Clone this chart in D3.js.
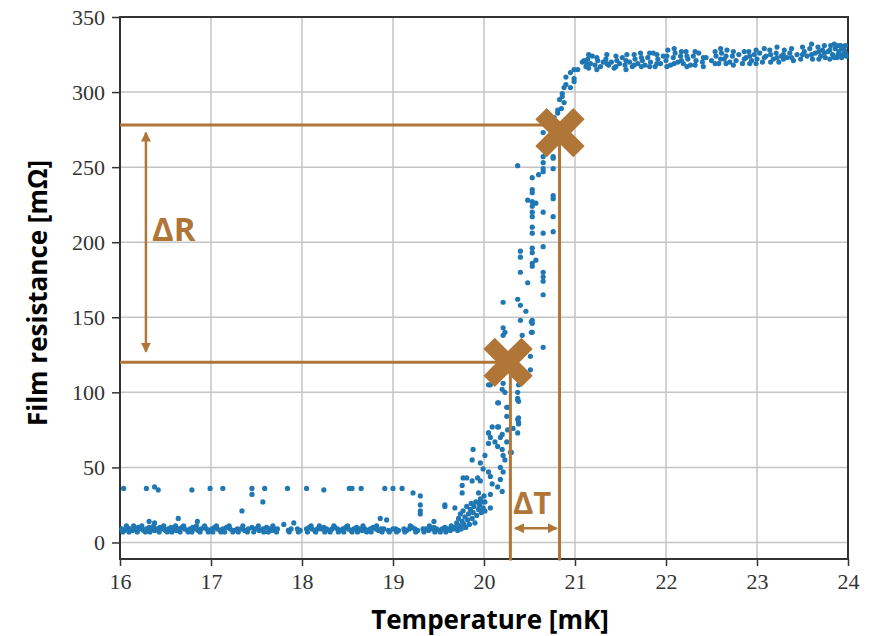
<!DOCTYPE html>
<html>
<head>
<meta charset="utf-8">
<script src="https://cdn.jsdelivr.net/npm/d3@7"></script>
<style>
  body { margin: 0; background: #fff; }
  .tick text { font-family: "Liberation Serif", serif; font-size: 22px; fill: #333; }
  .title { font-family: "Open Sans", sans-serif; font-weight: bold; font-size: 26px; fill: #000; }
  .note { font-family: "Open Sans", sans-serif; font-weight: bold; fill: #af7638; }
</style>
</head>
<body>
<div id="chart"></div>
<script>
// tick values
const xTicks = [16, 17, 18, 19, 20, 21, 22, 23, 24]
const yTicks = [0, 50, 100, 150, 200, 250, 300, 350]

// measured points [temperature mK, resistance mOhm]
const baseline = [
  [16.02,9],[16.05,8],[16.08,10],[16.11,9],[16.14,8],[16.17,9],[16.20,10],[16.23,9],[16.26,8],[16.29,9],
  [16.32,10],[16.35,9],[16.38,8],[16.41,9],[16.44,10],[16.47,9],[16.50,8],[16.53,9],[16.56,10],[16.59,9],
  [16.62,8],[16.65,9],[16.68,10],[16.71,9],[16.74,8],[16.77,9],[16.80,10],[16.83,9],[16.86,8],[16.89,9],
  [16.92,10],[16.95,9],[16.98,8],[17.01,9],[17.04,10],[17.07,9],[17.10,8],[17.13,9],[17.17,10],[17.21,9],
  [17.25,8],[17.29,9],[17.33,9],[17.37,8],[17.41,9],[17.45,10],[17.49,9],[17.53,8],[17.57,9],[17.61,10],
  [17.64,9],[17.67,8],[17.70,9],[17.73,9],[17.85,8],[17.88,9],[17.95,9],[17.98,8],[18.05,9],[18.08,10],
  [18.11,9],[18.14,8],[18.17,9],[18.21,9],[18.24,10],[18.27,9],[18.30,8],[18.33,9],[18.36,10],[18.39,9],
  [18.42,8],[18.45,9],[18.48,10],[18.51,9],[18.54,8],[18.57,9],[18.60,10],[18.63,9],[18.66,8],[18.69,9],
  [18.72,8],[18.75,9],[18.78,10],[18.81,9],[18.84,8],[18.87,9],[18.90,9],[18.95,8],[19.00,9],[19.03,9],
  [19.06,8],[19.12,9],[19.15,8],[19.18,9],[19.21,10],[19.24,9],[19.27,8],[19.33,9],[19.36,9],[19.39,8],
  [19.42,9],[19.45,10],[19.48,9],[19.51,8],[19.54,9],[19.57,10],[19.60,9],[19.63,8],[19.66,9]
]
const baselineLow = [
  [16.03,7],[16.07,11],[16.10,7],[16.15,11],[16.19,7],[16.24,11],[16.28,7],[16.33,7],[16.37,11],[16.43,7],
  [16.48,11],[16.52,7],[16.57,7],[16.61,11],[16.66,7],[16.70,11],[16.75,7],[16.79,7],[16.84,11],[16.88,7],
  [16.93,11],[16.97,7],[17.02,7],[17.06,11],[17.11,7],[17.15,7],[17.20,11],[17.24,7],[17.30,7],[17.35,11],
  [17.40,7],[17.47,7],[17.52,11],[17.58,7],[17.63,7],[17.68,11],[17.72,7],[17.86,7],[17.96,7],[18.06,7],
  [18.10,11],[18.15,7],[18.19,11],[18.25,7],[18.31,7],[18.35,11],[18.40,7],[18.46,7],[18.50,11],[18.55,7],
  [18.61,7],[18.67,11],[18.71,7],[18.76,7],[18.82,11],[18.88,7],[18.96,7],[19.04,7],[19.13,7],[19.19,11],
  [19.25,7],[19.34,7],[19.40,11],[19.46,7],[19.52,7],[19.58,7],[19.64,11]
]
const outliers = [
  [16.04,36],[16.29,36],[16.38,37],[16.42,35],[16.79,35],[16.99,36],[17.13,36],[17.45,36],[17.45,32],
  [17.59,36],[17.57,27],[17.84,36],[18.05,36],[18.24,35],[18.52,36],[18.55,36],[18.65,36],[18.91,36],
  [19.00,36],[19.10,36],[19.22,33],[19.30,31],[19.30,25],[19.30,21],[19.30,19],[19.45,14],[19.57,24],
  [16.32,14],[16.38,13],[16.64,16],[16.85,14],[17.34,21],[17.80,12],[17.91,13],[18.86,16],[18.93,15]
]
const transition = [
  [19.68,10],[19.70,13],[19.71,8],[19.72,16],[19.73,11],[19.74,19],[19.75,9],[19.76,14],[19.77,21],[19.78,12],
  [19.79,17],[19.80,10],[19.81,24],[19.82,15],[19.83,19],[19.84,12],[19.85,22],[19.86,26],[19.87,16],[19.88,20],
  [19.89,24],[19.90,13],[19.91,27],[19.92,18],[19.94,22],[19.95,25],[19.96,29],[19.97,20],[19.98,27],[19.99,23],
  [20.00,31],[19.57,25],[19.68,23],[19.76,33],[19.76,38],[19.77,43],[19.81,43],[19.87,41],[19.93,43],[19.96,41],
  [19.88,62],[19.87,55],[19.96,53],[19.99,49],[20.01,58],[20.05,73],[20.07,70],[20.05,66],[20.09,77],[20.12,67],
  [20.15,77],[20.18,70],[20.15,64],[20.20,62],[20.21,58],[20.23,55],[20.18,50],[20.07,44],[20.09,39],[20.07,32],
  [20.07,23],[20.05,47],[20.25,84],[20.26,75],[20.25,67],[20.29,60],[20.30,60],[20.37,82],[20.38,79],[20.37,73],
  [20.37,95],[20.25,90],[20.15,93],[20.18,42],[20.15,37],[20.20,34],[20.21,47],[19.94,33],[19.96,27],[20.01,27],
  [20.01,21],[20.05,105],[20.20,102],[20.21,106],[20.37,100],[20.37,96],[20.38,105],[20.51,124],[20.51,115],
  [20.65,130],[20.23,140],[20.21,160],[20.37,162],[20.40,158],[20.46,154],[20.53,148],[20.53,146],[20.40,148],
  [20.21,143],[20.21,138],[20.42,138],[20.53,140],[20.40,194],[20.40,190],[20.53,196],[20.53,193],[20.57,188],
  [20.53,186],[20.53,184],[20.40,180],[20.65,180],[20.65,177],[20.65,174],[20.48,173],[20.65,165],[20.53,210],
  [20.53,206],[20.65,206],[20.76,207],[20.65,197],[20.53,235],[20.53,233],[20.48,228],[20.53,227],[20.57,226],
  [20.53,224],[20.53,220],[20.53,217],[20.65,220],[20.76,231],[20.76,229],[20.76,217],[20.37,251],[20.53,243],
  [20.60,245],[20.65,247],[20.65,249],[20.76,249],[20.76,257],[20.65,257],[20.65,253],[20.76,256],[20.65,273],
  [20.65,266],[20.72,263],[20.81,288],[20.81,286],[20.83,295],[20.86,299],[20.88,303],[20.90,305],[20.95,313],
  [20.99,315],[21.03,315],[20.90,310],[20.99,309],[20.99,307],[20.95,303],[20.86,297],[20.88,293],[20.85,289],
  [20.77,283],[21.10,321],[21.13,319],[20.07,105],[20.23,100],[20.16,93],[20.26,90],[20.38,94],[20.38,83],
  [20.38,80],[20.05,73],[20.16,77],[20.20,72],[20.32,76],[20.52,147],[20.52,140]
]
const plateau = [
  [21.08,320],[21.12,317],[21.14,322],[21.17,319],[21.19,324],[21.22,318],[21.25,321],[21.28,317],[21.31,320],
  [21.34,322],[21.37,318],[21.40,320],[21.43,316],[21.46,321],[21.49,319],[21.52,323],[21.55,318],[21.57,325],
  [21.60,320],[21.63,317],[21.66,322],[21.69,319],[21.72,326],[21.74,321],[21.77,318],[21.80,323],[21.83,320],
  [21.86,326],[21.88,317],[21.91,322],[21.94,319],[21.97,324],[22.00,321],[22.02,328],[22.05,318],[22.08,323],
  [22.10,326],[22.13,320],[22.16,324],[22.19,319],[22.22,327],[22.24,322],[22.27,318],[22.30,324],[22.33,321],
  [22.36,326],[22.40,320],[22.44,323],[22.50,321],[22.55,324],[22.58,319],[22.61,326],[22.64,322],[22.67,328],
  [22.70,320],[22.73,324],[22.77,321],[22.80,325],[22.84,319],[22.88,323],[22.91,327],[22.94,321],[22.97,325],
  [23.00,322],[23.03,326],[23.06,320],[23.10,324],[23.14,328],[23.18,322],[23.21,326],[23.24,320],[23.27,324],
  [23.30,328],[23.33,323],[23.36,326],[23.40,321],[23.44,325],[23.48,322],[23.52,327],[23.55,324],[23.58,329],
  [23.61,322],[23.64,326],[23.67,330],[23.70,324],[23.72,328],[23.75,323],[23.78,327],[23.81,331],[23.83,325],
  [23.86,329],[23.88,323],[23.90,327],[23.92,331],[23.94,325],[23.96,328],[23.98,324]
]
const plateauSpread = [
  [21.15,316],[21.15,325],[21.24,323],[21.24,315],[21.35,319],[21.35,325],[21.45,317],[21.45,324],[21.56,321],
  [21.56,315],[21.65,325],[21.65,318],[21.73,317],[21.73,323],[21.82,317],[21.82,326],[21.90,319],[21.90,325],
  [22.01,324],[22.01,317],[22.09,319],[22.09,329],[22.17,321],[22.17,327],[22.23,317],[22.23,324],[22.32,318],
  [22.32,327],[22.41,323],[22.41,317],[22.54,319],[22.54,327],[22.60,322],[22.60,329],[22.66,319],[22.66,324],
  [22.74,327],[22.74,318],[22.86,322],[22.86,327],[22.92,324],[22.92,319],[22.99,319],[22.99,328],[23.08,323],
  [23.08,329],[23.15,320],[23.15,325],[23.22,323],[23.22,330],[23.29,322],[23.29,325],[23.38,323],[23.38,329],
  [23.50,325],[23.50,330],[23.60,325],[23.60,332],[23.68,322],[23.68,327],[23.74,326],[23.74,331],[23.80,322],
  [23.80,328],[23.85,323],[23.85,332],[23.89,325],[23.89,331],[23.93,323],[23.93,329],[23.97,326],[23.97,331]
]

// annotation values (data units)
const crosses = [[20.265, 120], [20.835, 273]]
const levels = [[120, 20.265], [278, 20.835]]   // [R, T end] horizontal guides
const drops = [[20.29, 120], [20.83, 273]]      // [T, R start] vertical guides
const dR = {t: 16.285, r0: 127, r1: 273}
const dT = {r: 9.5, t0: 20.34, t1: 20.80}

const W = 879, H = 636
const margin = {top: 17, right: 31, bottom: 77, left: 120}
const brown = '#af7638'

const svg = d3.select('#chart').append('svg')
  .attr('width', W).attr('height', H)

var x = d3.scaleLinear().domain([16, 24]).range([margin.left, W - margin.right])
var y = d3.scaleLinear().domain([-11, 350]).range([H - margin.bottom, margin.top])

// grid
svg.append('g').selectAll('line').data(xTicks).join('line')
  .attr('x1', d => x(d)).attr('x2', d => x(d))
  .attr('y1', y.range()[1]).attr('y2', y.range()[0])
  .attr('stroke', '#c4c4c4').attr('stroke-width', 1.5)
svg.append('g').selectAll('line').data(yTicks).join('line')
  .attr('y1', d => y(d)).attr('y2', d => y(d))
  .attr('x1', x.range()[0]).attr('x2', x.range()[1])
  .attr('stroke', '#c4c4c4').attr('stroke-width', 1.5)

// axes
svg.append('g')
  .attr('transform', 'translate(0,' + y.range()[0] + ')')
  .call(d3.axisBottom(x).tickValues(xTicks).tickSize(7).tickPadding(7).tickSizeOuter(0))
svg.append('g')
  .attr('transform', 'translate(' + x.range()[0] + ',0)')
  .call(d3.axisLeft(y).tickValues(yTicks).tickSize(8).tickPadding(7).tickSizeOuter(0))
svg.selectAll('.domain').remove()
svg.selectAll('.tick line').attr('stroke', '#333').attr('stroke-width', 1.5)

// frame
svg.append('rect')
  .attr('x', x.range()[0]).attr('y', y.range()[1])
  .attr('width', x.range()[1] - x.range()[0]).attr('height', y.range()[0] - y.range()[1])
  .attr('fill', 'none').attr('stroke', '#333').attr('stroke-width', 2)

// scatter
var pts = baseline.concat(baselineLow, outliers, transition, plateau, plateauSpread)
svg.append('g').selectAll('circle').data(pts).join('circle')
  .attr('cx', d => x(d[0])).attr('cy', d => y(d[1]))
  .attr('r', 2.6).attr('fill', '#1f77b4')

// arrow heads
var defs = svg.append('defs')
defs.append('marker').attr('id', 'ah')
  .attr('viewBox', '0 0 10 10').attr('refX', 9).attr('refY', 5)
  .attr('markerWidth', 4).attr('markerHeight', 4).attr('markerUnits', 'strokeWidth')
  .attr('orient', 'auto-start-reverse')
  .append('path').attr('d', 'M0,0 L10,5 L0,10 Z').attr('fill', brown)

// guides
var ann = svg.append('g')
ann.selectAll('.lvl').data(levels).join('line')
  .attr('x1', x(16)).attr('x2', d => x(d[1]))
  .attr('y1', d => y(d[0])).attr('y2', d => y(d[0]))
  .attr('stroke', brown).attr('stroke-width', 3)
ann.selectAll('.drp').data(drops).join('line')
  .attr('x1', d => x(d[0])).attr('x2', d => x(d[0]))
  .attr('y1', d => y(d[1])).attr('y2', y(-12))
  .attr('stroke', brown).attr('stroke-width', 3)

ann.append('line')
  .attr('x1', x(dR.t)).attr('x2', x(dR.t))
  .attr('y1', y(dR.r1)).attr('y2', y(dR.r0))
  .attr('stroke', brown).attr('stroke-width', 2.5)
  .attr('marker-start', 'url(#ah)').attr('marker-end', 'url(#ah)')
ann.append('line')
  .attr('x1', x(dT.t0)).attr('x2', x(dT.t1))
  .attr('y1', y(dT.r)).attr('y2', y(dT.r))
  .attr('stroke', brown).attr('stroke-width', 2.5)
  .attr('marker-start', 'url(#ah)').attr('marker-end', 'url(#ah)')

// big crosses
var cr = ann.selectAll('.cross').data(crosses).join('g')
  .attr('transform', d => 'translate(' + x(d[0]) + ',' + y(d[1]) + ')')
cr.append('line').attr('x1', -19).attr('y1', -19).attr('x2', 19).attr('y2', 19)
  .attr('stroke', brown).attr('stroke-width', 16)
cr.append('line').attr('x1', -19).attr('y1', 19).attr('x2', 19).attr('y2', -19)
  .attr('stroke', brown).attr('stroke-width', 16)

ann.append('text').attr('class', 'note')
  .attr('x', x(dR.t) + 6).attr('y', 241).attr('font-size', 33).text('ΔR')
ann.append('text').attr('class', 'note')
  .attr('x', x(dT.t0) - 2).attr('y', 514).attr('font-size', 31).text('ΔT')

// titles
svg.append('text').attr('class', 'title')
  .attr('x', 490).attr('y', 629)
  .attr('text-anchor', 'middle').text('Temperature [mK]')
svg.append('text').attr('class', 'title')
  .attr('transform', 'translate(47,' + 293 + ') rotate(-90)')
  .attr('text-anchor', 'middle').text('Film resistance [mΩ]')
</script>
</body>
</html>
